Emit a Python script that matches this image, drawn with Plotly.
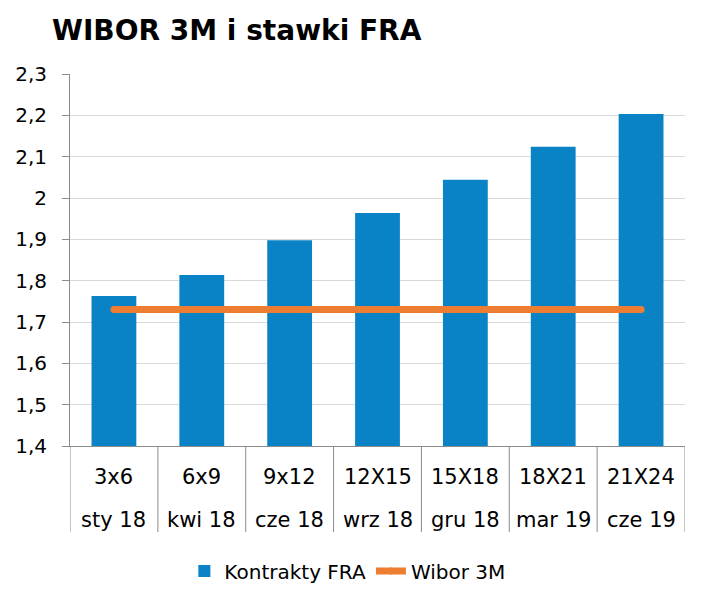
import plotly.graph_objects as go

contracts = ["3x6", "6x9", "9x12", "12X15", "15X18", "18X21", "21X24"]
dates = ["sty 18", "kwi 18", "cze 18", "wrz 18", "gru 18", "mar 19", "cze 19"]
fra_values = [1.763, 1.814, 1.898, 1.964, 2.044, 2.124, 2.203]
wibor_values = [1.73, 1.73, 1.73, 1.73, 1.73, 1.73, 1.73]
y_ticks = [1.4, 1.5, 1.6, 1.7, 1.8, 1.9, 2.0, 2.1, 2.2, 2.3]

FONT = "DejaVu Sans, Verdana, sans-serif"
BLUE = "#0a82c6"
ORANGE = "#ed7d31"
GRID = "#d9d9d9"
AXIS = "#8c8c8c"

# page body has an 8px margin, so the figure is 8px smaller than the window
W, H = 694, 583
PLOT_H = 372

idx = list(range(len(contracts)))

fig = go.Figure()
fig.add_trace(go.Bar(x=idx, y=fra_values, name="Kontrakty FRA",
                     marker=dict(color=BLUE, line=dict(width=0)), width=0.51))
fig.add_trace(go.Scatter(x=idx, y=wibor_values, name="Wibor 3M", mode="lines+markers",
                         line=dict(color=ORANGE, width=7),
                         marker=dict(color=ORANGE, size=7, line=dict(width=0))))

def py(px_below_axis):
    return -px_below_axis / PLOT_H

# category labels (two rows)
for i, (c, d) in enumerate(zip(contracts, dates)):
    fig.add_annotation(x=i, y=py(31), xref="x", yref="paper", text=c, showarrow=False,
                       font=dict(family=FONT, size=21, color="#000"), yanchor="middle")
    fig.add_annotation(x=i, y=py(74), xref="x", yref="paper", text=d, showarrow=False,
                       font=dict(family=FONT, size=21, color="#000"), yanchor="middle")

# dividers between categories
for k in range(len(contracts) + 1):
    fig.add_shape(type="line", xref="x", yref="paper", x0=k - 0.5, x1=k - 0.5,
                  y0=0, y1=py(86), line=dict(color=AXIS, width=1))

fig.update_layout(
    width=W, height=H,
    margin=dict(l=62, r=17, t=66, b=H - 66 - PLOT_H, autoexpand=False),
    paper_bgcolor="white", plot_bgcolor="white",
    separators=", ",
    title=dict(text="<b>WIBOR 3M i stawki FRA</b>", x=44 / W, xref="container", xanchor="left",
               y=1 - 22 / H, yref="container", yanchor="middle",
               font=dict(family=FONT, size=28, color="#000")),
    xaxis=dict(range=[-0.5, len(contracts) - 0.5], showticklabels=False, showgrid=False,
               showline=True, linecolor=AXIS, linewidth=1, ticks="", zeroline=False),
    yaxis=dict(range=[1.4, 2.3], tickvals=y_ticks, showgrid=True, gridcolor=GRID, gridwidth=1,
               showline=True, linecolor=AXIS, linewidth=1, ticks="outside", ticklen=7,
               tickcolor=AXIS, tickfont=dict(family=FONT, size=20, color="#000"),
               zeroline=False, ticklabelstandoff=11),
    legend=dict(orientation="h", x=0.451, xanchor="center", y=py(125), yanchor="middle",
                font=dict(family=FONT, size=20, color="#000"), itemwidth=30,
                traceorder="normal"),
    showlegend=True,
)

fig.write_html("out.html")
